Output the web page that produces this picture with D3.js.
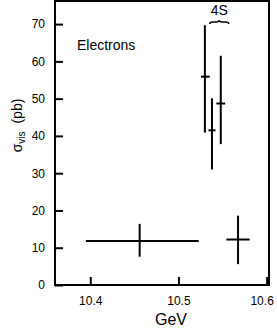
<!DOCTYPE html>
<html><head><meta charset="utf-8">
<script src="https://cdn.jsdelivr.net/npm/d3@7"></script>
<style>body{margin:0;background:#fff}svg{display:block}text{font-family:"Liberation Sans",Arial,Helvetica,sans-serif;fill:#000}</style>
</head><body><svg id="c" width="277" height="332"></svg>
<script>
const energy = [10.456, 10.5676, 10.530, 10.538, 10.548];
const energyLo = [10.395, 10.5544, 10.5255, 10.534, 10.543];
const energyHi = [10.523, 10.5808, 10.5355, 10.542, 10.553];
const sigma = [11.8, 12.2, 55.9, 41.5, 48.7];
const sigmaLo = [7.6, 5.6, 40.9, 31.0, 37.8];
const sigmaHi = [16.4, 18.6, 69.7, 50.1, 61.5];
const yTicks = [0, 10, 20, 30, 40, 50, 60, 70];
const xTicks = [10.4, 10.5, 10.6];
const braceRange = [10.5355, 10.557];

const svg = d3.select("#c");
const L = 55, R = 269, T = 1, B = 285;
const x = d3.scaleLinear().domain([10.36, 10.6027]).range([L, R]);
const y = d3.scaleLinear().domain([0, 76.2]).range([B, T]);

// frame
svg.append("rect").attr("x", L).attr("y", T).attr("width", R - L).attr("height", B - T)
  .attr("fill", "none").attr("stroke", "#000").attr("stroke-width", 2);

// y axis
const ya = svg.append("g").attr("transform", `translate(${L},0)`)
  .call(d3.axisLeft(y).tickValues(yTicks).tickSize(-8).tickPadding(10).tickFormat(d3.format("d")));
ya.select(".domain").remove();
ya.selectAll("line").attr("stroke-width", 2);
ya.selectAll("text").attr("font-size", 12).style("font-family", "Liberation Sans, Arial, sans-serif");

// x axis
const xa = svg.append("g").attr("transform", `translate(0,${B})`)
  .call(d3.axisBottom(x).tickValues(xTicks).tickSize(-8).tickPadding(11).tickFormat(d3.format(".1f")));
xa.select(".domain").remove();
xa.selectAll("line").attr("stroke-width", 2);
xa.selectAll("text").attr("font-size", 12).style("font-family", "Liberation Sans, Arial, sans-serif")
  .attr("dx", d => d === 10.6 ? -5 : 0);

// labels
svg.append("text").attr("x", 171).attr("y", 325).attr("text-anchor", "middle").attr("font-size", 16).text("GeV");
const yl = svg.append("text").attr("transform", "translate(22,125.5) rotate(-90)").attr("text-anchor", "middle").attr("font-size", 14);
yl.append("tspan").text("σ");
yl.append("tspan").attr("font-size", 10).attr("dy", 3).text("vis");
yl.append("tspan").attr("dy", -3).attr("dx", 4).text(" (pb)");

svg.append("text").attr("x", 77).attr("y", 50).attr("font-size", 14).text("Electrons");

// 4S annotation
const bx0 = x(braceRange[0]), bx1 = x(braceRange[1]), bm = (bx0 + bx1) / 2, by = 22;
svg.append("text").attr("x", bm).attr("y", 15).attr("text-anchor", "middle").attr("font-size", 14).text("4S");
svg.append("path")
  .attr("d", `M${bx0},${by + 2} Q${bx0},${by} ${bx0 + 3},${by} L${bm - 3},${by} Q${bm},${by} ${bm},${by - 2} Q${bm},${by} ${bm + 3},${by} L${bx1 - 3},${by} Q${bx1},${by} ${bx1},${by + 2}`)
  .attr("fill", "none").attr("stroke", "#000").attr("stroke-width", 1.5);

// error bars
const g = svg.append("g").attr("stroke", "#000").attr("stroke-width", 2);
energy.forEach((e, i) => {
  g.append("line").attr("x1", x(energyLo[i])).attr("x2", x(energyHi[i])).attr("y1", y(sigma[i])).attr("y2", y(sigma[i]));
  g.append("line").attr("x1", x(e)).attr("x2", x(e)).attr("y1", y(sigmaLo[i])).attr("y2", y(sigmaHi[i]));
});
</script></body></html>
